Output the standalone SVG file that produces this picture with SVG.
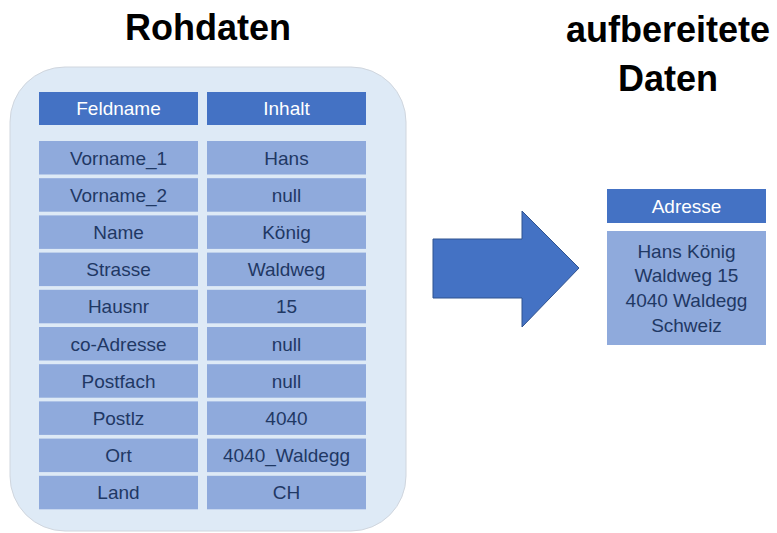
<svg xmlns="http://www.w3.org/2000/svg" width="777" height="533" viewBox="0 0 777 533">
<style>
.title{font-family:"Liberation Sans",Arial,sans-serif;font-weight:bold;font-size:36px;fill:#000;text-anchor:middle}
.hdr{fill:#4472C4}
.cell{fill:#8FAADC}
.ht{font-family:"Liberation Sans",Arial,sans-serif;font-size:19px;fill:#fff;text-anchor:middle}
.ct{font-family:"Liberation Sans",Arial,sans-serif;font-size:19px;fill:#1F3864;text-anchor:middle}
</style>
<rect width="777" height="533" fill="#fff"/>
<text class="title" x="208" y="40">Rohdaten</text>
<text class="title" x="668" y="42">aufbereitete</text>
<text class="title" x="668" y="91">Daten</text>
<g id="panel">
<rect x="10" y="67" width="396" height="464" rx="55" ry="55" fill="#DEEAF6" stroke="#D0D6DE" stroke-width="1"/>
</g>
<g id="header">
<rect class="hdr" x="39" y="92" width="159" height="33"/><text class="ht" x="118.5" y="115">Feldname</text>
<rect class="hdr" x="207" y="92" width="159" height="33"/><text class="ht" x="286.5" y="115">Inhalt</text>
</g>
<g id="row1"><rect class="cell" x="39" y="141" width="159" height="33.5"/><rect class="cell" x="207" y="141" width="159" height="33.5"/><text class="ct" x="118.5" y="164.5">Vorname_1</text><text class="ct" x="286.5" y="164.5">Hans</text></g>
<g id="row2"><rect class="cell" x="39" y="178.2" width="159" height="33.5"/><rect class="cell" x="207" y="178.2" width="159" height="33.5"/><text class="ct" x="118.5" y="201.7">Vorname_2</text><text class="ct" x="286.5" y="201.7">null</text></g>
<g id="row3"><rect class="cell" x="39" y="215.4" width="159" height="33.5"/><rect class="cell" x="207" y="215.4" width="159" height="33.5"/><text class="ct" x="118.5" y="238.9">Name</text><text class="ct" x="286.5" y="238.9">König</text></g>
<g id="row4"><rect class="cell" x="39" y="252.6" width="159" height="33.5"/><rect class="cell" x="207" y="252.6" width="159" height="33.5"/><text class="ct" x="118.5" y="276.1">Strasse</text><text class="ct" x="286.5" y="276.1">Waldweg</text></g>
<g id="row5"><rect class="cell" x="39" y="289.8" width="159" height="33.5"/><rect class="cell" x="207" y="289.8" width="159" height="33.5"/><text class="ct" x="118.5" y="313.3">Hausnr</text><text class="ct" x="286.5" y="313.3">15</text></g>
<g id="row6"><rect class="cell" x="39" y="327" width="159" height="33.5"/><rect class="cell" x="207" y="327" width="159" height="33.5"/><text class="ct" x="118.5" y="350.5">co-Adresse</text><text class="ct" x="286.5" y="350.5">null</text></g>
<g id="row7"><rect class="cell" x="39" y="364.2" width="159" height="33.5"/><rect class="cell" x="207" y="364.2" width="159" height="33.5"/><text class="ct" x="118.5" y="387.7">Postfach</text><text class="ct" x="286.5" y="387.7">null</text></g>
<g id="row8"><rect class="cell" x="39" y="401.4" width="159" height="33.5"/><rect class="cell" x="207" y="401.4" width="159" height="33.5"/><text class="ct" x="118.5" y="424.9">Postlz</text><text class="ct" x="286.5" y="424.9">4040</text></g>
<g id="row9"><rect class="cell" x="39" y="438.6" width="159" height="33.5"/><rect class="cell" x="207" y="438.6" width="159" height="33.5"/><text class="ct" x="118.5" y="462.1">Ort</text><text class="ct" x="286.5" y="462.1">4040_Waldegg</text></g>
<g id="row10"><rect class="cell" x="39" y="475.8" width="159" height="33.5"/><rect class="cell" x="207" y="475.8" width="159" height="33.5"/><text class="ct" x="118.5" y="499.3">Land</text><text class="ct" x="286.5" y="499.3">CH</text></g>
<g id="connectors">
<polygon points="433,239 522,239 522,211 579,268 522,327 522,298 433,298" fill="#4472C4" stroke="#2F528F" stroke-width="1"/>
</g>
<g id="adresse">
<rect class="hdr" x="607" y="189" width="159" height="34"/>
<text class="ht" x="686.5" y="213">Adresse</text>
<rect class="cell" x="607" y="231" width="159" height="114"/>
<text class="ct" x="686.5" y="258">Hans König</text>
<text class="ct" x="686.5" y="282">Waldweg 15</text>
<text class="ct" x="686.5" y="307">4040 Waldegg</text>
<text class="ct" x="686.5" y="332">Schweiz</text>
</g>
</svg>
